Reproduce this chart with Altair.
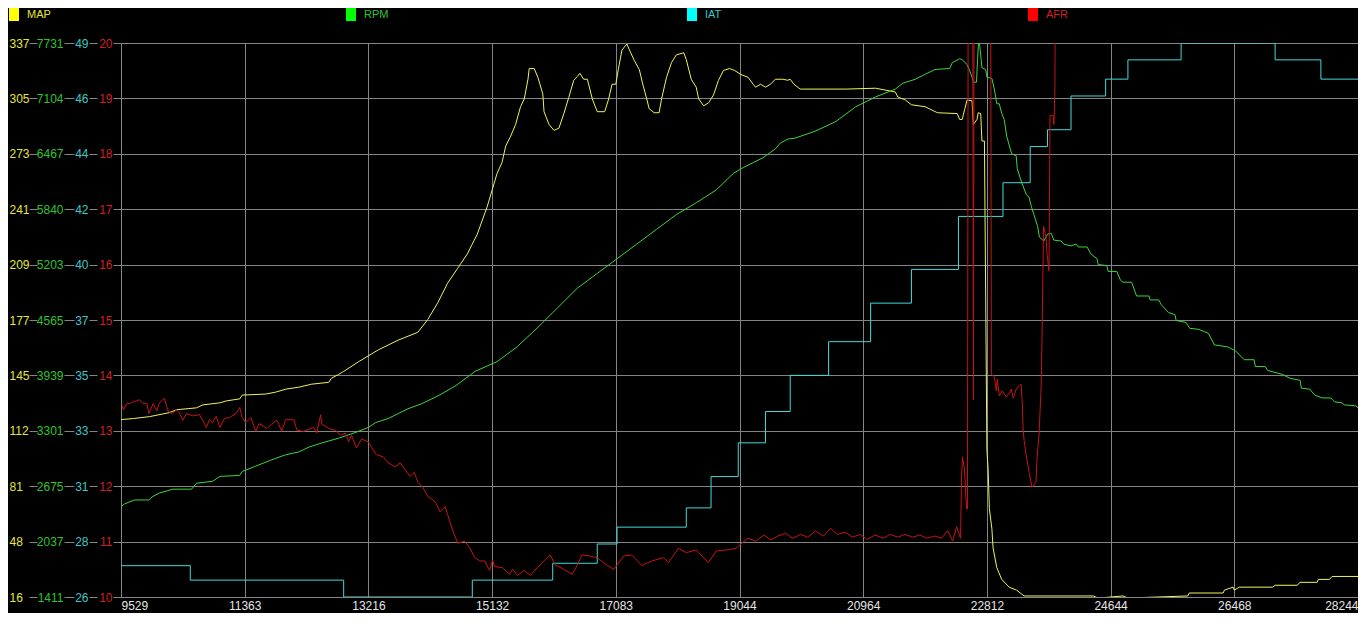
import json
import altair as alt
import pandas as pd

FONT = "Liberation Sans"

series_names = ["MAP", "RPM", "IAT", "AFR"]
x_tick_labels = ["9529", "11363", "13216", "15132", "17083", "19044",
                 "20964", "22812", "24644", "26468", "28244"]
map_tick_labels = ["16", "48", "81", "112", "145", "177", "209", "241", "273", "305", "337"]
rpm_tick_labels = ["1411", "2037", "2675", "3301", "3939", "4565", "5203", "5840", "6467", "7104", "7731"]
iat_tick_labels = ["26", "28", "31", "33", "35", "37", "40", "42", "44", "46", "49"]
afr_tick_labels = ["10", "11", "12", "13", "14", "15", "16", "17", "18", "19", "20"]

# (sample, value) pairs
map_points = [
    (0, 118.8), (10, 119.4), (23, 120.5), (39, 122.8), (45, 124.5), (61, 125.6), (66, 127.3),
    (80, 128.5), (85, 129.6), (96, 130.8), (98, 133.0), (117, 133.6), (125, 134.7), (133, 136.4),
    (144, 137.6), (154, 139.3), (168, 140.4), (170, 142.7), (176, 145.0), (180, 146.7), (192, 152.3),
    (208, 159.2), (224, 164.8), (240, 169.4), (248, 176.8), (256, 186.4), (264, 197.8), (272, 206.3),
    (280, 214.8), (288, 226.2), (296, 242.1), (304, 261.4), (308, 267.7), (311, 277.3), (315, 283.0),
    (319, 289.8), (323, 300.1), (326, 304.6), (329, 316.0), (330, 322.2), (334, 322.2), (337, 317.1),
    (341, 307.4), (342, 297.2), (346, 289.8), (350, 286.4), (354, 287.6), (358, 296.1), (362, 305.5),
    (366, 315.4), (369, 317.7), (371, 319.4), (374, 316.0), (377, 316.0), (381, 304.6), (385, 297.2),
    (391, 297.2), (394, 304.0), (397, 313.1), (400, 313.1), (402, 321.6), (405, 333.0), (409, 336.4),
    (411, 333.0), (415, 326.8), (419, 321.6), (422, 312.6), (425, 304.6), (427, 298.9), (431, 296.6),
    (435, 296.6), (437, 304.6), (441, 317.1), (445, 325.6), (449, 330.2), (455, 331.3), (457, 327.3),
    (461, 316.0), (465, 311.4), (467, 304.6), (471, 300.6), (475, 302.3), (479, 306.9), (483, 315.4),
    (487, 321.1), (492, 322.2), (496, 321.1), (501, 318.8), (507, 317.1), (511, 313.1), (513, 311.4),
    (517, 313.1), (521, 311.4), (525, 313.1), (529, 316.0), (535, 316.0), (539, 315.4), (541, 316.0),
    (544, 313.1), (549, 310.3), (586, 310.3), (610, 310.8), (626, 308.6), (628, 305.7), (634, 304.0),
    (639, 301.2), (650, 300.1), (660, 296.6), (676, 296.1), (678, 292.7), (680, 292.7), (682, 298.4),
    (684, 304.0), (688, 303.5), (689, 289.8), (692, 292.7), (693, 296.6), (695, 296.1), (696, 280.2),
    (698, 280.2), (699, 192.1), (700, 101.2), (701, 89.9), (702, 67.1), (704, 55.8), (705, 44.4),
    (708, 33.0), (712, 26.2), (718, 21.7), (724, 20.0), (730, 16.6), (786, 16.6), (790, 15.4),
    (810, 16.6), (814, 15.4), (862.5, 16.6), (863.5, 18.3), (891, 18.3), (892, 20.0), (899, 21.7),
    (900, 20.0), (904, 21.7), (931, 21.7), (933, 22.8), (951, 22.8), (953, 24.5), (967, 24.5),
    (968, 26.2), (977, 26.2), (979, 27.9), (1000, 27.9),
]

rpm_points = [
    (0, 2440), (3, 2474), (11, 2518), (23, 2518), (25, 2552), (31, 2597), (42, 2641), (57, 2641),
    (61, 2709), (74, 2731), (80, 2787), (96, 2798), (98, 2843), (108, 2899), (122, 2977), (133, 3033),
    (144, 3067), (152, 3122), (162, 3167), (176, 3223), (190, 3290), (200, 3346), (206, 3402),
    (216, 3447), (224, 3503), (232, 3559), (243, 3615), (256, 3704), (270, 3816), (283, 3950),
    (286, 3984), (304, 4096), (320, 4263), (337, 4487), (353, 4711), (369, 4935), (385, 5102),
    (401, 5270), (417, 5438), (433, 5606), (449, 5774), (465, 5908), (481, 6053), (495, 6243),
    (503, 6310), (511, 6366), (519, 6422), (529, 6523), (533, 6590), (539, 6635), (545, 6646),
    (561, 6724), (578, 6836), (594, 7004), (610, 7116), (626, 7205), (632, 7272), (642, 7317),
    (650, 7373), (658, 7429), (670, 7440), (672, 7507), (678, 7552), (680, 7541), (684, 7485),
    (686, 7418), (688, 7340), (689, 7284), (691.6, 7284), (692.4, 7530), (693.2, 7731), (694.0, 7731),
    (696, 7451), (699, 7429), (700, 7340), (704, 7328), (706, 7205), (708, 7038), (710, 7038),
    (712, 6926), (714, 6859), (716, 6668), (720, 6467), (723.7, 6445), (724.5, 6299), (728, 6143),
    (732, 5997), (734, 5975), (736, 5863), (738, 5774), (741, 5639), (742.5, 5516), (746, 5472),
    (749, 5550), (752, 5561), (754, 5483), (760, 5472), (762, 5438), (768, 5416), (772, 5438),
    (774, 5404), (781, 5404), (784, 5326), (789, 5270), (790, 5203), (797, 5192), (798, 5125),
    (805, 5125), (808, 5024), (810, 5002), (817, 5002), (821, 4845), (831, 4845), (832, 4800),
    (839, 4800), (841, 4744), (847, 4655), (852, 4633), (853, 4565), (861, 4543), (864, 4476),
    (871, 4465), (879, 4420), (884, 4286), (895, 4263), (901, 4219), (908, 4118), (916, 4118),
    (917, 4040), (925, 4040), (927, 3995), (939, 3950), (945, 3906), (953.3, 3883), (954.1, 3794),
    (961, 3782), (965, 3715), (971, 3682), (978, 3682), (981, 3637), (987, 3626), (989, 3603),
    (998, 3592), (1000, 3570),
]

iat_points = [
    (0, 27.3), (56, 26.7), (180, 26.0), (284, 26.7), (349, 27.4), (385, 28.2), (401, 28.9),
    (457, 29.7), (477, 31.0), (499, 32.4), (521, 33.7), (541, 35.2), (572, 36.6), (606, 38.2),
    (639, 39.6), (677, 41.8), (713, 43.2), (735, 44.7), (749, 45.4), (768, 46.8), (796, 47.5),
    (814, 48.3), (857, 49.0), (933, 48.3), (970, 47.5), (1000, 47.5),
]

afr_points = [
    (1, 13.45), (2, 13.38), (5, 13.50), (7, 13.49), (10, 13.52), (15, 13.56), (18, 13.49), (21, 13.49),
    (22.5, 13.31), (26, 13.49), (29, 13.36), (31, 13.50), (35, 13.59), (38, 13.36), (41, 13.31),
    (45, 13.38), (47, 13.33), (50, 13.19), (53, 13.31), (58, 13.27), (63.5, 13.29), (66, 13.19),
    (69, 13.06), (71.5, 13.20), (74, 13.15), (77, 13.26), (80, 13.06), (83.5, 13.22), (87.5, 13.24),
    (93, 13.31), (96, 13.42), (98, 13.24), (101, 13.15), (105, 13.24), (109, 12.99), (111.6, 13.13),
    (114, 13.10), (118, 13.04), (122, 13.13), (126, 13.19), (130, 12.99), (133, 13.20), (139.8, 13.20),
    (142.2, 13.01), (147.8, 12.99), (151.8, 13.03), (155.8, 13.06), (158.2, 12.96), (161.4, 13.29),
    (162.2, 13.13), (168, 13.04), (173.5, 13.01), (177.5, 12.92), (181.5, 12.96), (184, 12.80),
    (186.3, 12.92), (190.4, 12.69), (194.4, 12.85), (200, 12.80), (202.4, 12.71), (206.4, 12.57),
    (212, 12.53), (216, 12.42), (221.7, 12.35), (225.7, 12.42), (229.7, 12.30), (233.7, 12.18),
    (237, 12.25), (240, 12.07), (244, 11.98), (248, 11.82), (254, 11.72), (258, 11.54), (262, 11.63),
    (264.3, 11.47), (268.3, 11.19), (272.3, 10.97), (278, 11.01), (282, 10.88), (286, 10.71),
    (290, 10.65), (294, 10.65), (298, 10.48), (300.4, 10.67), (302, 10.55), (308.4, 10.53),
    (314, 10.41), (316.5, 10.50), (320.5, 10.39), (326, 10.48), (331, 10.39), (336.5, 10.53),
    (343, 10.67), (347, 10.76), (351, 10.58), (358, 10.50), (364.7, 10.41), (368.7, 10.57),
    (372.7, 10.76), (379, 10.74), (385, 10.71), (393, 10.57), (398.4, 10.50), (406.4, 10.74),
    (412.8, 10.76), (421, 10.57), (429, 10.65), (438.5, 10.71), (442.6, 10.62), (450.6, 10.88),
    (457, 10.80), (465, 10.85), (474.7, 10.62), (481.2, 10.83), (489.2, 10.85), (497.2, 10.88),
    (501.2, 10.96), (506.8, 11.06), (513.2, 11.01), (519.7, 11.12), (525.3, 11.03), (531, 11.10),
    (537.3, 11.15), (543, 11.06), (549.4, 11.13), (555, 11.08), (561.4, 11.19), (568, 11.10),
    (573.5, 11.24), (579, 11.13), (585.5, 11.17), (591.2, 11.08), (597.6, 11.13), (603.2, 11.04),
    (609.6, 11.12), (616, 11.06), (621.7, 11.13), (628, 11.08), (633.7, 11.13), (640.2, 11.08),
    (645.8, 11.12), (651.4, 11.06), (657.8, 11.10), (663.5, 11.06), (668.3, 11.20), (672.3, 11.01),
    (675.5, 11.27), (678.7, 11.06), (679.5, 12.18), (680.3, 12.53), (681.9, 12.30), (683.5, 11.59),
    (684.3, 11.59), (685.1, 25.0), (688.3, 25.0), (689.1, 13.56), (689.9, 25.0), (702.8, 25.0),
    (703.6, 14.02), (706, 13.98), (707.6, 13.72), (708.4, 13.93), (710, 13.63), (712.4, 13.72),
    (715.7, 13.61), (718.1, 13.68), (719.7, 13.75), (721.3, 13.59), (723.7, 13.75), (726.1, 13.81),
    (727.7, 13.84), (728.5, 13.54), (729.3, 13.01), (730.1, 12.83), (731.7, 12.57), (734.1, 12.25),
    (736.5, 11.98), (739.7, 12.07), (740.5, 12.48), (742.2, 12.96), (743.8, 13.77), (744.6, 14.73),
    (745.8, 16.69), (747.8, 16.50), (748.6, 16.20), (750.2, 15.89), (751, 18.69), (753.4, 18.69),
    (754.2, 18.53), (755, 19.20), (755.8, 25.0), (1000, 25.0),
]

W, H = 1237, 554
GRID = "#858585"

x_axis = alt.Axis(
    values=list(range(0, 1001, 100)),
    labelExpr=f"{json.dumps(x_tick_labels)}[round(datum.value / 100)]",
    grid=True,
    gridColor={"condition": {"test": "datum.value >= 1000", "value": "#000000"}, "value": GRID},
    gridWidth=1, ticks=False, domain=False,
    labelColor="#e6e6e6", labelFont=FONT, labelFontSize=12, labelPadding=3,
    labelFlush=True, labelOverlap=False, title=None,
)
x_enc = alt.X("s:Q", scale=alt.Scale(domain=[0, 1000], nice=False, zero=False), axis=x_axis, title=None)


def y_axis(labels, lo, hi, color, offset, tick, pad, align="right", grid=False):
    step = (hi - lo) / 10
    vals = [lo + i * step for i in range(11)]
    return alt.Axis(
        orient="left", offset=offset, values=vals,
        labelExpr=f"{json.dumps(labels)}[round((datum.value - {lo}) / {step})]",
        labelColor=color, labelFont=FONT, labelFontSize=12, labelPadding=pad,
        labelAlign=align, labelBaseline="middle", labelFlush=False, labelOverlap=False,
        tickSize=tick, tickColor=GRID, tickWidth=1, domain=False,
        grid=grid, gridColor=GRID, gridWidth=1, title=None,
    )


def line(points, color, lo, hi, axis, interp="linear"):
    df = pd.DataFrame(points, columns=["s", "v"])
    return alt.Chart(df).mark_line(color=color, strokeWidth=1, clip=True, interpolate=interp).encode(
        x=x_enc,
        y=alt.Y("v:Q", scale=alt.Scale(domain=[lo, hi], nice=False, zero=False), axis=axis, title=None),
    )


map_layer = line(map_points, "#f2f25a", 16, 337,
                 y_axis(map_tick_labels, 16, 337, "#e6e63c", 84, 8, 20, align="left"))
rpm_layer = line(rpm_points, "#3cd63c", 1411, 7731,
                 y_axis(rpm_tick_labels, 1411, 7731, "#2fc42f", 47, 10, 1))
iat_layer = line(iat_points, "#40dada", 26, 49,
                 y_axis(iat_tick_labels, 26, 49, "#3cc8c8", 24, 8, 1), interp="step-after")
afr_layer = line(afr_points, "#c81414", 10, 20,
                 y_axis(afr_tick_labels, 10, 20, "#d02020", 0, 8, 1, grid=True))

legend_df = pd.DataFrame({"name": series_names})
legend_square_colors = ["#ffff00", "#00ff00", "#00ffff", "#ff0000"]
legend_text_colors = ["#e6e63c", "#2fc42f", "#3cc8c8", "#d02020"]
legend_x = [-112, 225, 566, 907]

legend_layers = []
for name, sq, tc, lx in zip(series_names, legend_square_colors, legend_text_colors, legend_x):
    base = alt.Chart(legend_df).transform_filter(alt.datum.name == name)
    legend_layers.append(base.mark_rect(color=sq).encode(
        x=alt.value(lx), x2=alt.value(lx + 10), y=alt.value(-35), y2=alt.value(-22)))
    legend_layers.append(base.mark_text(align="left", baseline="middle", color=tc, font=FONT, fontSize=11).encode(
        x=alt.value(lx + 18), y=alt.value(-28), text="name:N"))

chart = alt.layer(map_layer, rpm_layer, iat_layer, afr_layer, *legend_layers).resolve_scale(
    y="independent"
).properties(
    width=W, height=H, background="black",
    padding={"left": 113, "top": 35, "right": 0, "bottom": 16},
    autosize=alt.AutoSizeParams(type="none"),
).configure_view(stroke=None)

chart.save("out.html", embed_options={"renderer": "svg", "actions": False})
